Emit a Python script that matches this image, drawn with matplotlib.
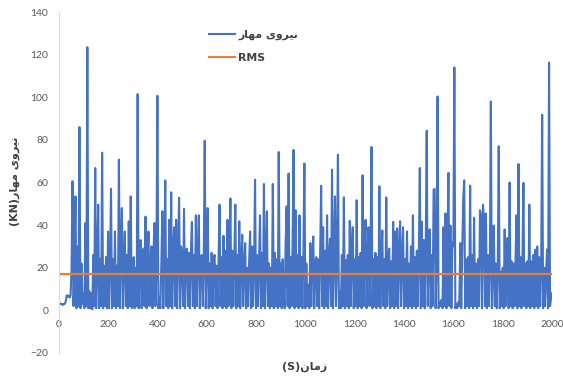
import numpy as np
import matplotlib
matplotlib.use("Agg")
import matplotlib.pyplot as plt

plt.rcParams["path.simplify"] = False
plt.rcParams["agg.path.chunksize"] = 0

force_000 = [5, 3, 3, 3, 2.5, 3, 3, 4, 7, 6.5, 7, 6, 7, 19, 60.6, 2, 25, 53.5, 1, 30, 2, 86, 1, 22, 3]
force_100 = [8, 1, 41, 2, 123.5, 1, 9, 1, 8, 0.5, 26, 2, 66.8, 1, 22, 49.6, 1, 24, 2, 74, 1, 21, 2, 25, 1]
force_200 = [37, 1, 22, 57, 1, 24, 2, 37, 1, 21, 2, 70.7, 1, 28, 48, 1, 23, 37, 2, 26, 1, 41.8, 2, 53.5, 1]
force_300 = [2, 25, 1, 20, 2, 101.5, 1, 19, 33, 1, 22, 29, 2, 44, 1, 24, 37, 2, 22, 30, 1, 26, 41, 2, 20]
force_400 = [100.7, 1, 6, 1, 22, 46.5, 1, 26, 61, 2, 24, 1, 42.5, 2, 55.4, 1, 28, 39, 2, 42.5, 1, 29, 52.8, 1, 30]
force_500 = [25, 2, 47.6, 1, 28, 29, 2, 27, 1, 28, 41.5, 2, 26, 1, 44.6, 2, 27, 44.6, 1, 25, 26, 2, 24, 79.6, 1]
force_600 = [20, 48, 1, 22, 2, 27, 1, 24, 26, 2, 21, 1, 23, 49.6, 2, 25, 1, 35, 2, 28, 1, 42.5, 2, 24, 52.5]
force_700 = [1, 28, 2, 25, 49.6, 1, 26, 2, 41.8, 1, 24, 35.5, 2, 22, 31.6, 1, 20, 2, 23, 37, 1, 30, 2, 21, 61.3]
force_800 = [1, 26, 2, 23, 44.6, 1, 27, 2, 59.3, 1, 25, 46.5, 2, 22, 1, 20, 2, 59.3, 1, 27, 2, 24, 1, 74.3, 2]
force_900 = [22, 1, 24, 8, 1, 31.6, 48.8, 2, 64.2, 1, 25, 2, 30, 75.3, 1, 47, 2, 26, 1, 44.6, 2, 25, 1, 27, 68.9]
force_1000 = [1, 22, 2, 12, 1, 31.6, 2, 24, 34.7, 1, 22, 25, 2, 24, 1, 27, 58.5, 2, 39, 1, 28, 2, 44.6, 1, 26]
force_1100 = [33.6, 2, 66, 1, 28, 53.5, 2, 25, 73, 1, 9, 1, 26, 2, 53, 1, 23.5, 2, 26, 1, 42, 2, 28, 39, 1]
force_1200 = [24, 2, 51.7, 1, 25, 2, 27, 1, 63.4, 2, 29, 42.5, 1, 26, 39, 2, 24, 76.7, 1, 24, 2, 27, 1, 25, 2]
force_1300 = [58.2, 1, 26, 37.5, 2, 24, 1, 53, 2, 25, 29, 1, 23, 2, 41.5, 1, 37, 2, 38.5, 1, 28, 41.8, 2, 26, 39]
force_1400 = [1, 24, 2, 37, 1, 22, 2, 30, 1, 44.6, 2, 25, 1, 28, 2, 27, 66.8, 1, 41.6, 2, 33, 1, 29, 84.3, 2]
force_1500 = [25, 38, 1, 26, 2, 56.7, 57, 1, 22, 100.4, 1, 4, 2, 5, 1, 39, 2, 45.5, 1, 30, 64.5, 2, 39.8, 1, 32]
force_1600 = [30, 114, 1, 3, 1, 4, 2, 31.6, 1, 28, 52.5, 61, 1, 24, 2, 25, 1, 58.5, 2, 26, 1, 43.5, 2, 22, 1]
force_1700 = [24, 2, 47, 44.6, 1, 49.6, 43, 2, 45.5, 1, 26, 2, 22, 98, 1, 18, 39.8, 2, 22, 1, 20, 77, 1, 18, 2]
force_1800 = [20, 1, 38, 2, 22, 34, 1, 60, 2, 23, 1, 22, 2, 24, 44.6, 1, 68.7, 2, 25, 1, 23, 59.8, 2, 22, 1]
force_1900 = [23, 2, 49.6, 1, 23, 2, 26, 1, 28.5, 2, 30, 1, 25, 2, 20, 91.8, 1, 20, 2, 18, 28.5, 1, 116.3, 2, 6]
force_2000 = [8]

force_kn = np.array(force_000 + force_100 + force_200 + force_300 + force_400 + force_500
                    + force_600 + force_700 + force_800 + force_900 + force_1000 + force_1100
                    + force_1200 + force_1300 + force_1400 + force_1500 + force_1600
                    + force_1700 + force_1800 + force_1900 + force_2000)
sample_step_s = 4
time_s = np.arange(len(force_kn)) * sample_step_s

rms_kn = 17.0

x_ticks = [0, 200, 400, 600, 800, 1000, 1200, 1400, 1600, 1800, 2000]
y_ticks = [-20, 0, 20, 40, 60, 80, 100, 120, 140]

# Persian text (logical: "نیروی مهار", "زمان(S)", "نیروی مهار(KN)") in shaped visual order
label_force = "\uFEAD\uFE8E\uFEEC\uFEE3 \uFBFC\uFEED\uFEAE\uFBFF\uFEE7"
label_rms = "RMS"
x_title = "(S)\uFEE5\uFE8E\uFEE3\uFEAF"
y_title = "(KN)\uFEAD\uFE8E\uFEEC\uFEE3 \uFBFC\uFEED\uFEAE\uFBFF\uFEE7"

blue = "#4472C4"
orange = "#ED7D31"
tick_color = "#595959"
text_color = "#404040"

fig = plt.figure(figsize=(5.63, 3.76), dpi=100)
ax = fig.add_axes([0.1043, 0.0612, 0.8762, 0.9068])

ax.plot(time_s, force_kn, color=blue, lw=1.5, solid_joinstyle="round",
        label=label_force)
ax.plot(time_s, np.full(len(time_s), rms_kn), color=orange, lw=1.6, label=label_rms)

ax.set_xlim(0, 2000)
ax.set_ylim(-20, 140)
ax.set_xticks(x_ticks)
ax.set_yticks(y_ticks)

for s in ("top", "right"):
    ax.spines[s].set_visible(False)
ax.spines["bottom"].set_position(("data", 0))
ax.spines["bottom"].set_visible(False)
ax.spines["left"].set_color("#D9D9D9")
ax.spines["left"].set_linewidth(0.8)

ax.tick_params(axis="both", length=0, labelsize=7.5, labelcolor=tick_color)
ax.tick_params(axis="y", pad=7.5)
ax.tick_params(axis="x", pad=7)
for lab in ax.get_xticklabels() + ax.get_yticklabels():
    lab.set_fontfamily("Lato")

leg = ax.legend(loc="upper left", bbox_to_anchor=(209 / 563, 1 - 30 / 376),
                bbox_transform=fig.transFigure, frameon=False,
                prop={"family": ["DejaVu Sans"], "weight": "bold", "size": 7.8},
                handlelength=2.4, handletextpad=0.3, labelspacing=1.15,
                borderpad=0, borderaxespad=0)
for t in leg.get_texts():
    t.set_color(text_color)
for h in leg.get_lines():
    h.set_linewidth(1.5)

fig.text(305 / 563, 1 - 367 / 376, x_title, ha="center", va="center",
         fontsize=8, fontweight="bold", color=text_color, family=["DejaVu Sans"])
fig.text(15 / 563, 1 - 181 / 376, y_title, ha="center", va="center", rotation=90,
         fontsize=8, fontweight="bold", color=text_color, family=["DejaVu Sans"])

fig.savefig("out.png", dpi=100)
